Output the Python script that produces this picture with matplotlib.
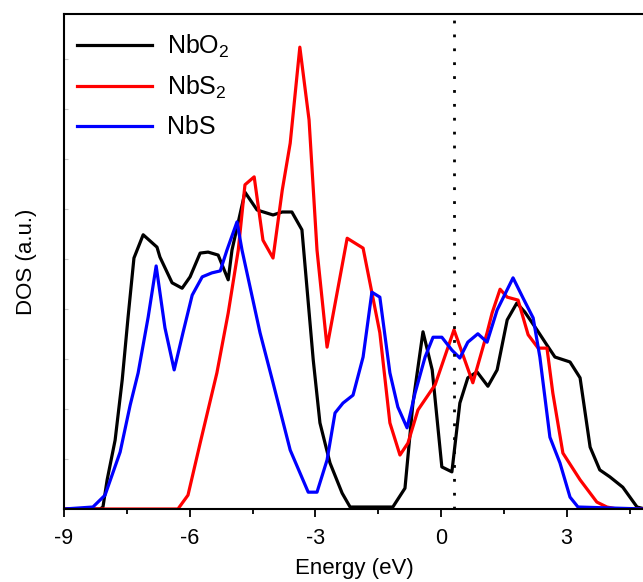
import matplotlib
matplotlib.use("Agg")
import matplotlib.pyplot as plt
import numpy as np

plt.rcParams['font.family'] = ['Liberation Sans', 'DejaVu Sans']
plt.rcParams['mathtext.fontset'] = 'custom'
plt.rcParams['mathtext.rm'] = 'Liberation Sans'
plt.rcParams['mathtext.it'] = 'Liberation Sans'
plt.rcParams['mathtext.bf'] = 'Liberation Sans'

# NbO2
e_nbo2 = [-9.00, -8.14, -8.07, -7.97, -7.78, -7.61, -7.47, -7.33, -7.11, -6.78, -6.71, -6.42,
          -6.18, -5.99, -5.75, -5.56, -5.32, -5.08, -4.99, -4.68, -4.39, -4.01, -3.79, -3.56,
          -3.32, -3.05, -2.89, -2.65, -2.36, -2.17, -1.15, -0.86, -0.67, -0.43, -0.21, 0.02,
          0.26, 0.45, 0.64, 0.86, 1.12, 1.34, 1.58, 1.81, 2.00, 2.29, 2.53, 2.72, 3.08, 3.32,
          3.56, 3.79, 4.03, 4.34, 4.68, 4.87]
d_nbo2 = [0.0, 0.0, 0.04, 0.59, 1.39, 2.61, 3.88, 5.07, 5.54, 5.29, 5.09, 4.57,
          4.46, 4.69, 5.17, 5.19, 5.13, 4.63, 5.23, 6.40, 6.04, 5.94, 6.00, 6.00,
          5.64, 3.01, 1.74, 0.93, 0.32, 0.04, 0.04, 0.42, 2.14, 3.58, 2.81, 0.85,
          0.75, 2.14, 2.65, 2.77, 2.48, 2.81, 3.82, 4.16, 3.98, 3.62, 3.31, 3.07, 2.97, 2.65,
          1.25, 0.79, 0.65, 0.44, 0.04, 0.0]

# NbS2
e_nbs2 = [-9.00, -6.28, -6.04, -5.75, -5.35, -5.08, -4.84, -4.68, -4.46, -4.25, -4.01, -3.79,
          -3.60, -3.37, -3.15, -2.96, -2.72, -2.24, -1.86, -1.46, -1.22, -0.98, -0.79, -0.55,
          -0.14, 0.31, 0.76, 1.10, 1.22, 1.41, 1.58, 1.84, 2.08, 2.32, 2.53, 2.67, 2.91, 3.32,
          3.72, 3.96, 4.20, 4.87]
d_nbs2 = [0.0, 0.0, 0.28, 1.33, 2.75, 3.96, 5.23, 6.55, 6.71, 5.43, 5.07, 6.44,
          7.39, 9.33, 7.86, 5.23, 3.27, 5.47, 5.27, 3.56, 1.74, 1.09, 1.33, 2.00,
          2.51, 3.62, 2.55, 3.56, 3.96, 4.44, 4.28, 4.22, 3.52, 3.25, 3.25, 2.34, 1.13, 0.59,
          0.14, 0.04, 0.0, 0.0]

# NbS
e_nbs = [-9.00, -8.31, -8.02, -7.66, -7.42, -7.23, -6.99, -6.80, -6.59, -6.37, -6.16, -5.94,
         -5.70, -5.47, -5.27, -5.11, -4.87, -4.75, -4.32, -4.01, -3.60, -3.17, -2.96, -2.72,
         -2.53, -2.34, -2.10, -1.86, -1.65, -1.46, -1.22, -1.03, -0.81, -0.62, -0.38, -0.19,
         0.02, 0.26, 0.45, 0.64, 0.88, 1.10, 1.34, 1.72, 1.96, 2.20, 2.36, 2.60, 2.84, 3.08,
         3.27, 4.87]
d_nbs = [0.0, 0.04, 0.28, 1.15, 2.10, 2.75, 3.88, 4.91, 3.66, 2.81, 3.56, 4.32,
         4.69, 4.77, 4.81, 5.23, 5.80, 5.23, 3.56, 2.55, 1.19, 0.34, 0.34, 0.99,
         1.94, 2.14, 2.30, 3.07, 4.38, 4.28, 2.75, 2.06, 1.64, 2.34, 3.07, 3.47,
         3.47, 3.21, 3.05, 3.37, 3.54, 3.37, 4.02, 4.67, 4.26, 3.86, 3.07, 1.45, 0.93, 0.24,
         0.04, 0.0]

fermi = 0.31
xticks = [-9, -6, -3, 0, 3]
labels = ['NbO$_2$', 'NbS$_2$', 'NbS']
colors = ['#000000', '#ff0000', '#0000ff']

fig = plt.figure(figsize=(6.43, 5.82), dpi=100)
ax = fig.add_axes([64/643, 73/582, 581/643, 495/582])

for e, d, lab, c in zip([e_nbo2, e_nbs2, e_nbs], [d_nbo2, d_nbs2, d_nbs], labels, colors):
    ax.plot(e, d, color=c, lw=2.3, label=lab, solid_joinstyle='round')

ax.axvline(fermi, color='black', lw=2.0, linestyle=(0, (1, 4)))

ax.set_xlim(-9, 4.87)
ax.set_ylim(0, 10)
ax.set_xticks(xticks)
ax.set_xticklabels([str(t) for t in xticks])
ax.set_xticks(np.arange(-7.5, 4.8, 3), minor=True)
ax.set_yticks(np.arange(1, 10) * 1.01)
ax.set_yticklabels([])
ax.tick_params(axis='x', which='major', direction='out', length=6, width=1.3, labelsize=15.5, pad=8)
ax.tick_params(axis='x', which='minor', direction='out', length=3.8, width=1.3)
ax.tick_params(axis='y', which='major', direction='in', length=3, width=0.8, color='#c8c8c8')
for s in ax.spines.values():
    s.set_linewidth(1.5)

ax.set_xlabel('Energy (eV)', fontsize=16, labelpad=6)
ax.set_ylabel('DOS (a.u.)', fontsize=16, labelpad=16)

leg = ax.legend(loc='upper left', frameon=False, fontsize=18, handlelength=3.0,
                handletextpad=0.6, labelspacing=0.56, borderaxespad=0.0,
                bbox_to_anchor=(0.005, 0.982))

fig.savefig('out.png', dpi=100)
